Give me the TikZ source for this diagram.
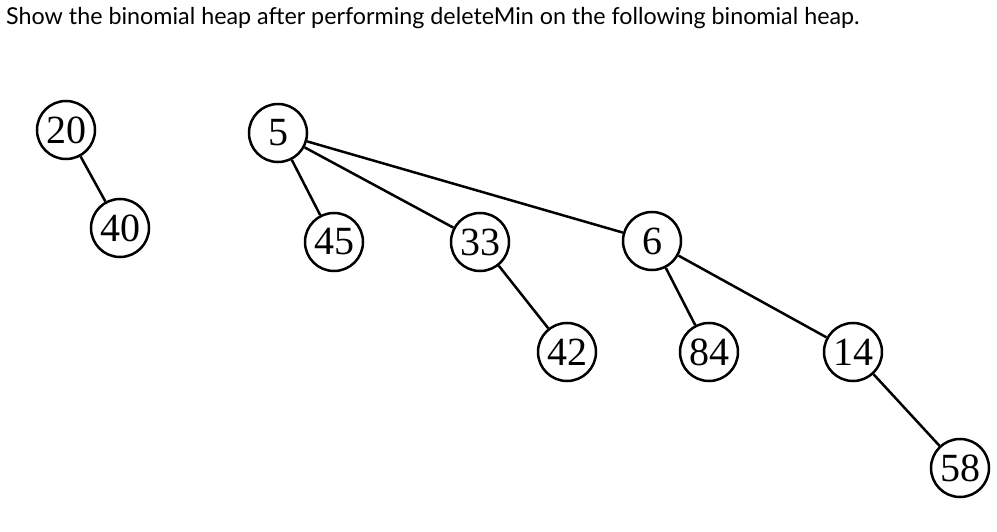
\documentclass[tikz,border=0pt]{standalone}
\usepackage{fontspec}
\setmainfont{Liberation Serif}
\newfontfamily\latof{Lato}
\begin{document}
\begin{tikzpicture}[x=1pt,y=-1pt,
  hn/.style={circle,draw,line width=2.5pt,minimum size=58pt,inner sep=0pt,font=\fontsize{40}{40}\selectfont},
  ed/.style={line width=2.5pt}]
\useasboundingbox (0,0) rectangle (997,532);
\node[anchor=west,inner sep=0pt,font=\latof\fontsize{23.3}{26}\selectfont] (t) at (6,18) {Show the binomial heap after performing deleteMin on the following binomial heap.};
\node[hn] (n20) at (66,130) {20};
\node[hn] (n40) at (120,228) {40};
\node[hn] (n5) at (278,133) {5};
\node[hn] (n45) at (334,242) {45};
\node[hn] (n33) at (480,242) {33};
\node[hn] (n6) at (652,241) {6};
\node[hn] (n42) at (567,352) {42};
\node[hn] (n84) at (709,352) {84};
\node[hn] (n14) at (853,352) {14};
\node[hn] (n58) at (960,468) {58};
\draw[ed] (n20)--(n40);
\draw[ed] (n5)--(n45);
\draw[ed] (n5)--(n33);
\draw[ed] (n5)--(n6);
\draw[ed] (n33)--(n42);
\draw[ed] (n6)--(n84);
\draw[ed] (n6)--(n14);
\draw[ed] (n14)--(n58);
\end{tikzpicture}
\end{document}
